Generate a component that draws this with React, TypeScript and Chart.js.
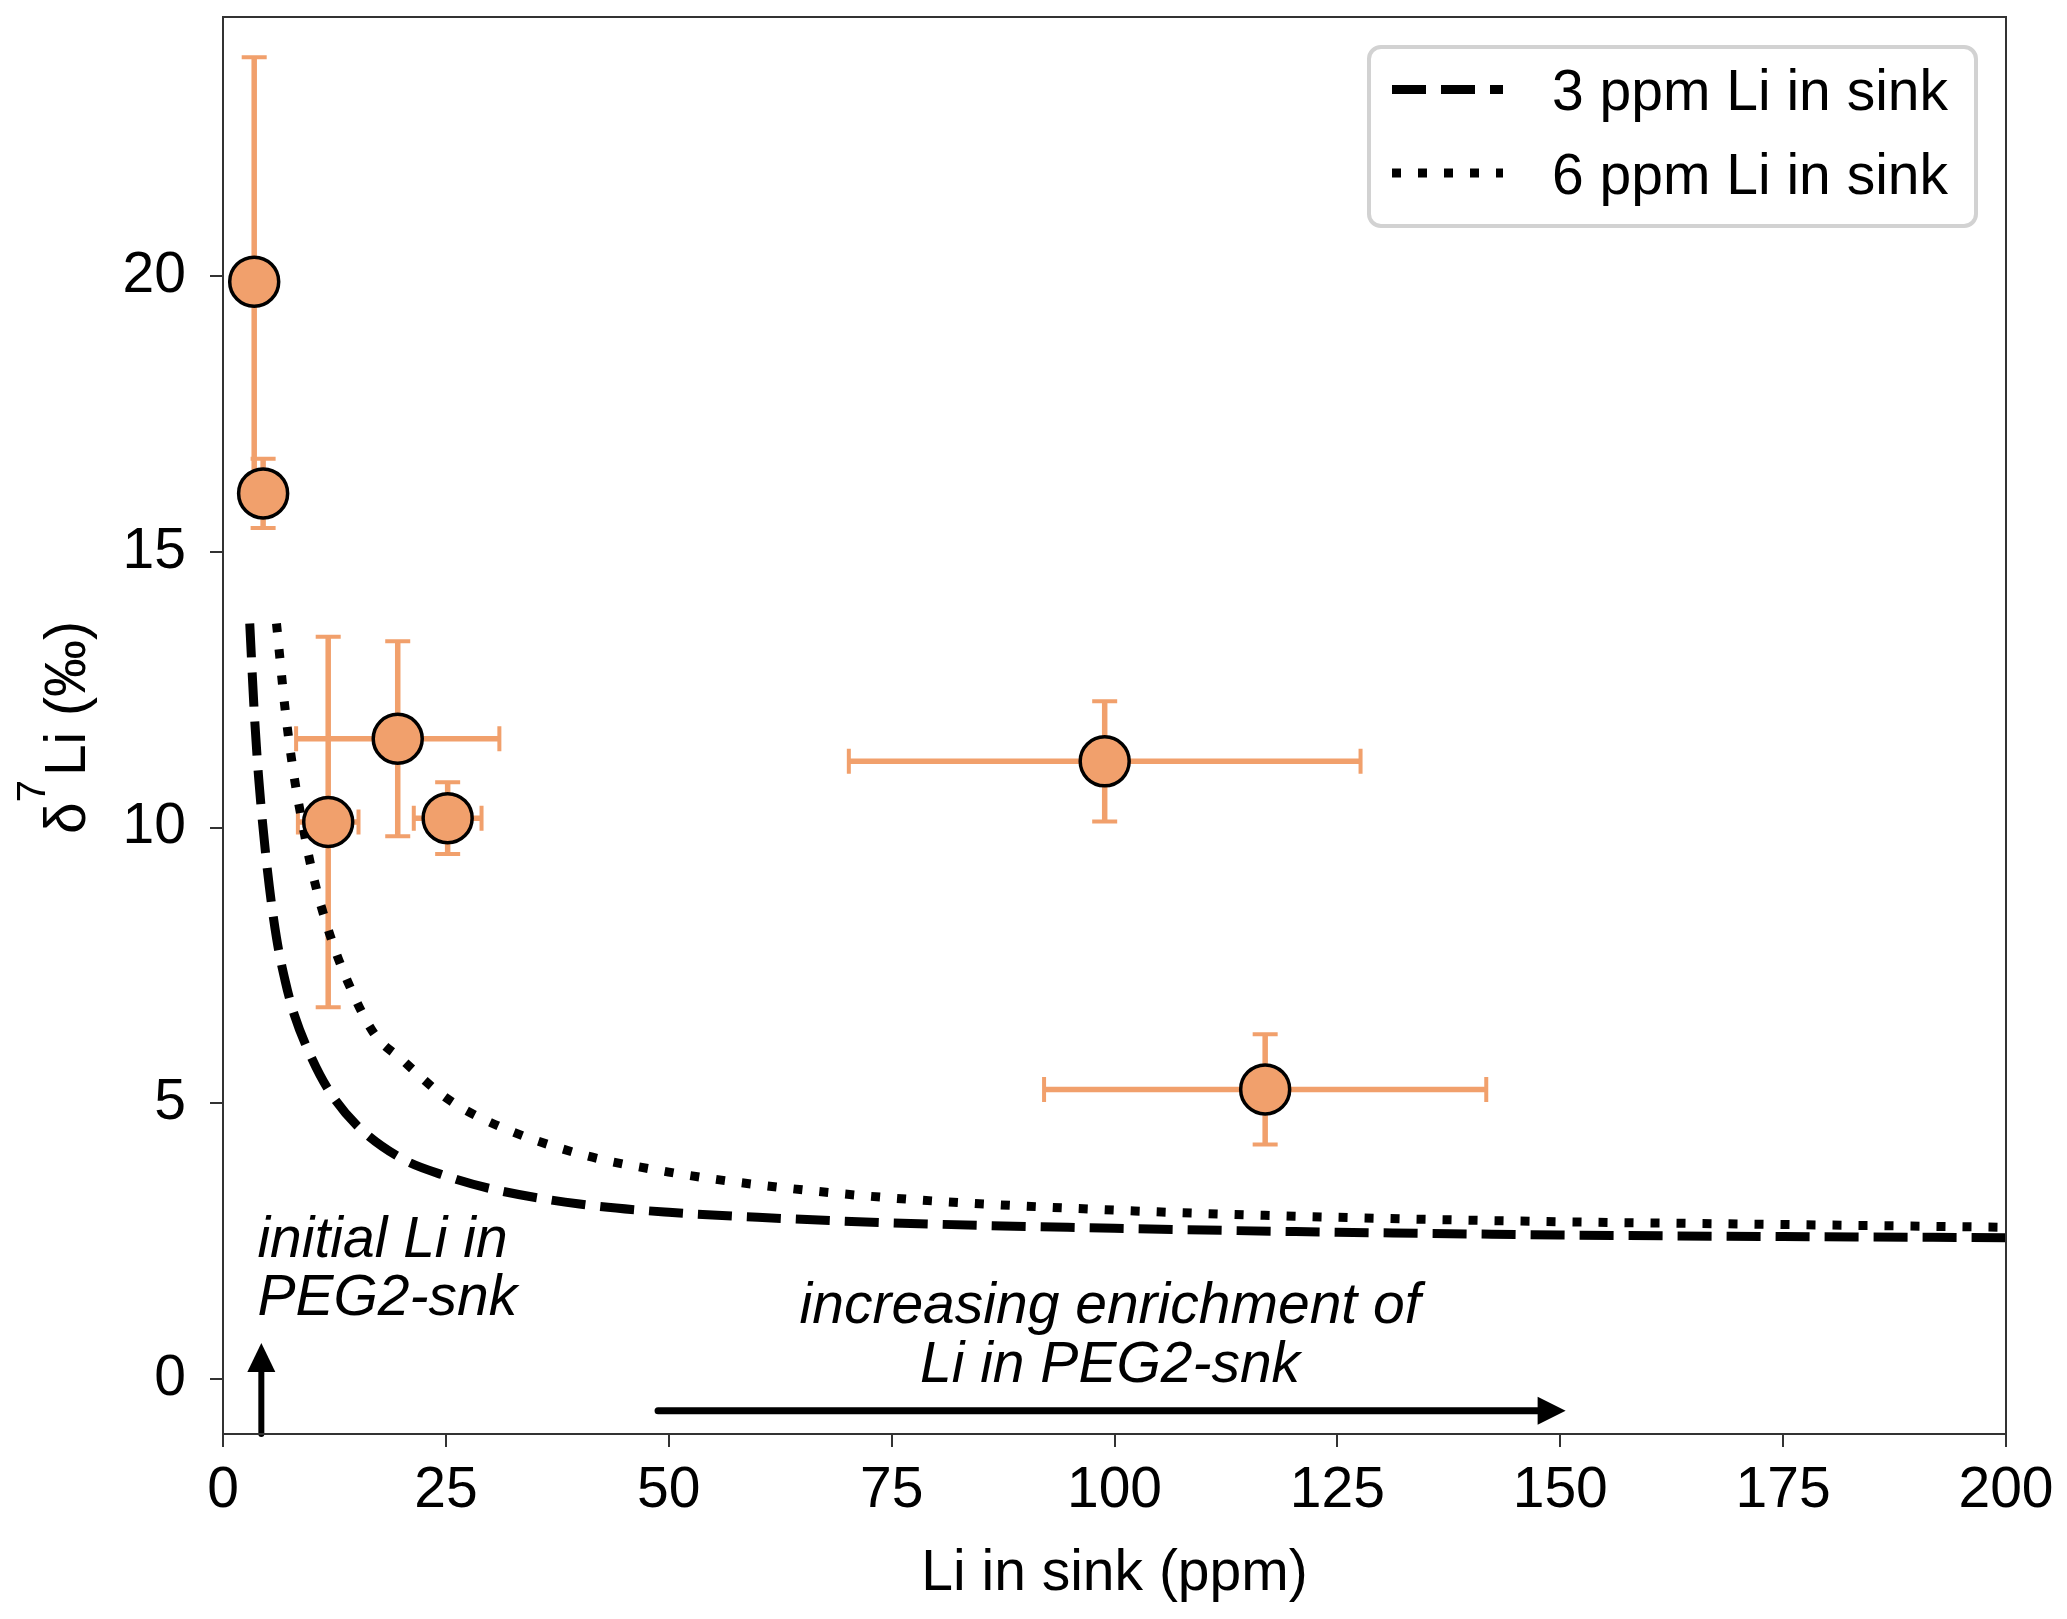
import React, { useEffect, useRef } from 'react'
import Chart from 'chart.js/auto'

const W = 2067
const H = 1619
const FONT = '"Liberation Sans", Arial, Helvetica, sans-serif'
const ORANGE = '#F1A06C'

// measured samples
const liSink = [3.5, 4.5, 11.8, 19.6, 25.2, 98.9, 116.9]
const liSinkErr = [0, 0, 3.4, 11.4, 3.8, 28.7, 24.8]
const d7Li = [19.9, 16.06, 10.1, 11.61, 10.17, 11.2, 5.25]
const d7LiErr = [4.07, 0.63, 3.36, 1.77, 0.65, 1.09, 1.0]

// mixing curves
const sink3X = [3, 3.5, 4, 5, 6, 7, 8, 10, 12, 15, 20, 25, 30, 40, 50, 60, 75, 100, 125, 150, 175, 200]
const sink3Y = [13.7, 12.1, 10.9, 9.2, 8.0, 7.2, 6.6, 5.8, 5.2, 4.6, 4.0, 3.68, 3.45, 3.17, 3.02, 2.93, 2.83, 2.73, 2.66, 2.61, 2.58, 2.56]
const sink6X = [6, 7, 8, 9, 10, 12, 14, 17, 20, 25, 30, 40, 50, 60, 75, 100, 125, 150, 175, 200]
const sink6Y = [13.7, 12.1, 10.9, 10.0, 9.2, 8.05, 7.2, 6.25, 5.8, 5.1, 4.65, 4.08, 3.75, 3.52, 3.28, 3.06, 2.93, 2.85, 2.8, 2.75]

const xTicks = [0, 25, 50, 75, 100, 125, 150, 175, 200]
const yTicks = [0, 5, 10, 15, 20]

const drawArrow = (ctx: CanvasRenderingContext2D, x1: number, y1: number, x2: number, y2: number, shaft: number, headLen: number, headW: number) => {
  const a = Math.atan2(y2 - y1, x2 - x1)
  const bx = x2 - Math.cos(a) * headLen
  const by = y2 - Math.sin(a) * headLen
  ctx.beginPath()
  ctx.lineWidth = shaft
  ctx.lineCap = 'round'
  ctx.moveTo(x1, y1)
  ctx.lineTo(bx, by)
  ctx.stroke()
  ctx.beginPath()
  ctx.moveTo(x2, y2)
  ctx.lineTo(bx + Math.sin(a) * headW / 2, by - Math.cos(a) * headW / 2)
  ctx.lineTo(bx - Math.sin(a) * headW / 2, by + Math.cos(a) * headW / 2)
  ctx.closePath()
  ctx.fill()
}

const errorBars = {
  id: 'errorBars',
  beforeDatasetsDraw(chart: any) {
    const { ctx, scales: { x, y } } = chart
    ctx.save()
    ctx.strokeStyle = ORANGE
    ctx.lineCap = 'butt'
    liSink.forEach((v, i) => {
      const px = x.getPixelForValue(v)
      const py = y.getPixelForValue(d7Li[i])
      const cap = 12.5
      ctx.lineWidth = 5.5
      ctx.beginPath()
      const yt = y.getPixelForValue(d7Li[i] + d7LiErr[i])
      const yb = y.getPixelForValue(d7Li[i] - d7LiErr[i])
      ctx.moveTo(px, yt)
      ctx.lineTo(px, yb)
      if (liSinkErr[i] > 0) {
        ctx.moveTo(x.getPixelForValue(v - liSinkErr[i]), py)
        ctx.lineTo(x.getPixelForValue(v + liSinkErr[i]), py)
      }
      ctx.stroke()
      ctx.lineWidth = 4
      ctx.beginPath()
      ctx.moveTo(px - cap, yt); ctx.lineTo(px + cap, yt)
      ctx.moveTo(px - cap, yb); ctx.lineTo(px + cap, yb)
      if (liSinkErr[i] > 0) {
        const xl = x.getPixelForValue(v - liSinkErr[i])
        const xr = x.getPixelForValue(v + liSinkErr[i])
        ctx.moveTo(xl, py - cap); ctx.lineTo(xl, py + cap)
        ctx.moveTo(xr, py - cap); ctx.lineTo(xr, py + cap)
      }
      ctx.stroke()
    })
    ctx.restore()
  }
}

const annotations = {
  id: 'annotations',
  afterDatasetsDraw(chart: any) {
    const { ctx, scales: { x, y } } = chart
    ctx.save()
    ctx.fillStyle = '#000'
    ctx.strokeStyle = '#000'
    ctx.font = `italic 57px ${FONT}`
    ctx.textBaseline = 'alphabetic'
    ctx.textAlign = 'left'
    ctx.fillText('initial Li in', x.getPixelForValue(3.86), y.getPixelForValue(2.21))
    ctx.fillText('PEG2-snk', x.getPixelForValue(3.86), y.getPixelForValue(1.16))
    ctx.textAlign = 'center'
    ctx.fillText('increasing enrichment of', x.getPixelForValue(99.5), y.getPixelForValue(1.01))
    ctx.fillText('Li in PEG2-snk', x.getPixelForValue(99.5), y.getPixelForValue(-0.05))
    drawArrow(ctx, x.getPixelForValue(4.3), y.getPixelForValue(-1), x.getPixelForValue(4.3), y.getPixelForValue(0.65), 6, 29, 28)
    drawArrow(ctx, x.getPixelForValue(48.8), y.getPixelForValue(-0.58), x.getPixelForValue(150.6), y.getPixelForValue(-0.58), 7, 28, 28)
    ctx.restore()
  }
}

const frame = {
  id: 'frame',
  afterDraw(chart: any) {
    const { ctx, chartArea: { left, right, top, bottom } } = chart
    ctx.save()
    ctx.strokeStyle = '#333'
    ctx.lineWidth = 2
    ctx.strokeRect(left, top, right - left, bottom - top)

    // axis titles
    ctx.fillStyle = '#000'
    ctx.textBaseline = 'alphabetic'
    ctx.textAlign = 'center'
    ctx.font = `57px ${FONT}`
    ctx.fillText('Li in sink (ppm)', (left + right) / 2, 1590)

    ctx.save()
    ctx.translate(85, (top + bottom) / 2 + 2)
    ctx.rotate(-Math.PI / 2)
    ctx.textAlign = 'left'
    ctx.font = `57px ${FONT}`
    const wd = ctx.measureText('δ').width
    const wr = ctx.measureText('Li (‰)').width
    ctx.font = `40px ${FONT}`
    const w7 = ctx.measureText('7').width
    let cx = -(wd + w7 + wr + 4) / 2
    ctx.font = `57px ${FONT}`
    ctx.fillText('δ', cx, 0)
    cx += wd
    ctx.font = `40px ${FONT}`
    ctx.fillText('7', cx, -40)
    cx += w7 + 4
    ctx.font = `57px ${FONT}`
    ctx.fillText('Li (‰)', cx, 0)
    ctx.restore()

    // legend
    ctx.beginPath()
    ctx.roundRect(1369, 47, 607, 179, 12)
    ctx.fillStyle = '#fff'
    ctx.fill()
    ctx.strokeStyle = '#d2d2d2'
    ctx.lineWidth = 4
    ctx.stroke()
    const rows = [{ ds: chart.data.datasets[1], ly: 89.5, ty: 110 }, { ds: chart.data.datasets[2], ly: 173, ty: 194 }]
    rows.forEach(({ ds, ly, ty }) => {
      ctx.beginPath()
      ctx.strokeStyle = '#000'
      ctx.lineWidth = ds.borderWidth
      ctx.lineCap = 'butt'
      ctx.setLineDash(ds.borderDash)
      ctx.moveTo(1392, ly)
      ctx.lineTo(1503, ly)
      ctx.stroke()
      ctx.setLineDash([])
      ctx.fillStyle = '#000'
      ctx.textAlign = 'left'
      ctx.font = `57px ${FONT}`
      ctx.fillText(ds.label, 1552, ty)
    })
    ctx.restore()
  }
}

const App: React.FC = () => {
  const canvasRef = useRef<HTMLCanvasElement | null>(null)
  const chartRef = useRef<Chart | null>(null)

  useEffect(() => {
    document.body.style.margin = '0'
    if (canvasRef.current === null) return
    const ctx = canvasRef.current.getContext('2d')
    if (ctx === null) return
    chartRef.current?.destroy()

    chartRef.current = new Chart(ctx, {
      type: 'scatter',
      data: {
        datasets: [
          {
            label: 'samples',
            data: liSink.map((v, i) => ({ x: v, y: d7Li[i] })),
            pointRadius: 24.5,
            pointBackgroundColor: ORANGE,
            pointBorderColor: '#000',
            pointBorderWidth: 3.5,
            showLine: false,
            clip: false
          },
          {
            label: '3 ppm Li in sink',
            data: sink3X.map((v, i) => ({ x: v, y: sink3Y[i] })),
            showLine: true,
            borderColor: '#000',
            borderWidth: 9,
            borderDash: [34, 15],
            pointRadius: 0,
            cubicInterpolationMode: 'monotone'
          },
          {
            label: '6 ppm Li in sink',
            data: sink6X.map((v, i) => ({ x: v, y: sink6Y[i] })),
            showLine: true,
            borderColor: '#000',
            borderWidth: 9,
            borderDash: [9, 17],
            pointRadius: 0,
            cubicInterpolationMode: 'monotone'
          }
        ] as any
      },
      options: {
        animation: false,
        responsive: false,
        devicePixelRatio: 1,
        events: [],
        layout: { autoPadding: false, padding: { top: 17, right: 61, left: 0, bottom: 0 } },
        plugins: { legend: { display: false }, tooltip: { enabled: false } },
        scales: {
          x: {
            type: 'linear',
            min: 0,
            max: 200,
            afterFit: (s: any) => { s.height = 185 },
            afterBuildTicks: (s: any) => { s.ticks = xTicks.map(value => ({ value })) },
            grid: { drawOnChartArea: false, tickLength: 13, color: '#333', lineWidth: 2 },
            border: { display: false },
            ticks: { font: { size: 57, family: FONT }, color: '#000', padding: 10, maxRotation: 0, autoSkip: false }
          },
          y: {
            type: 'linear',
            min: -1,
            max: 24.7,
            afterFit: (s: any) => { s.width = 223; s.paddingTop = 0; s.paddingBottom = 0 },
            afterBuildTicks: (s: any) => { s.ticks = yTicks.map(value => ({ value })) },
            grid: { drawOnChartArea: false, tickLength: 13, color: '#333', lineWidth: 2 },
            border: { display: false },
            ticks: { font: { size: 57, family: FONT }, color: '#000', padding: 24, autoSkip: false }
          }
        }
      },
      plugins: [errorBars, annotations, frame]
    })

    return () => {
      chartRef.current?.destroy()
      chartRef.current = null
    }
  }, [])

  return (
    <div style={{ width: W, height: H, background: '#fff' }}>
      <canvas ref={canvasRef} width={W} height={H} style={{ width: W, height: H, display: 'block' }} />
    </div>
  )
}

export default App
